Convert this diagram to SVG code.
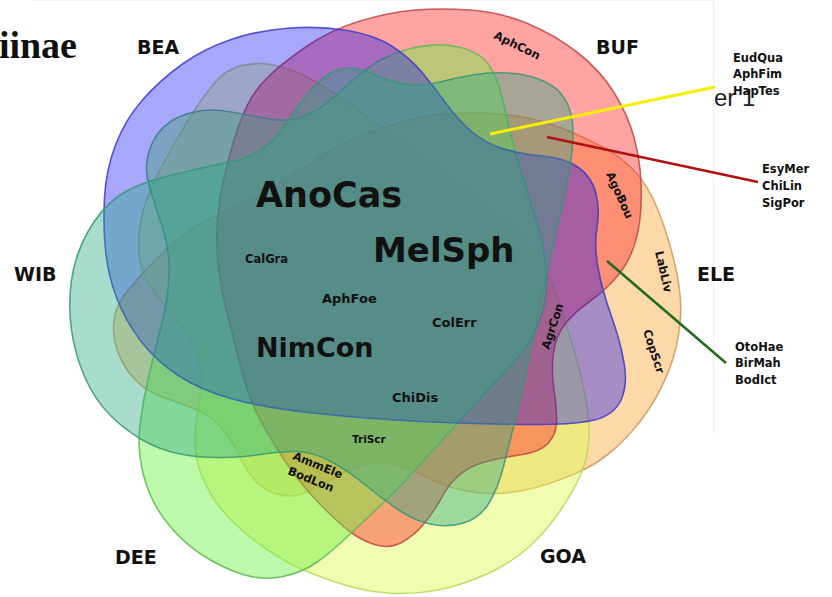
<svg xmlns="http://www.w3.org/2000/svg" width="832" height="597" viewBox="0 0 832 597">
  <defs>
    <style>
      .set { stroke-width: 1.6; stroke-opacity: 0.85; }
      .setname { font-family: "DejaVu Sans", Verdana, sans-serif; font-weight: bold; font-size: 19px; fill: #111; }
      .big { font-family: "DejaVu Sans", Verdana, sans-serif; font-weight: bold; fill: #111; }
      .sp { font-family: "DejaVu Sans", Verdana, sans-serif; font-weight: bold; font-size: 11.5px; fill: #111; }
      .list { font-family: "DejaVu Sans", Verdana, sans-serif; font-weight: bold; font-size: 11.5px; fill: #111; }
      .conn { fill: none; stroke-linecap: butt; }
    </style>
    <clipPath id="rightPanel">
      <rect x="715" y="0" width="117" height="597"/>
    </clipPath>
  </defs>

  <rect width="832" height="597" fill="#ffffff"/>
  <!-- panel edges -->
  <line x1="32" y1="0.5" x2="713" y2="0.5" stroke="#efefef" stroke-width="1"/>
  <line x1="713.5" y1="0" x2="713.5" y2="433" stroke="#efefef" stroke-width="1"/>

  <!-- title fragments -->
  <text x="77" y="58" text-anchor="end" font-family="'Liberation Serif', 'Times New Roman', serif" font-weight="bold" font-size="38" fill="#111">iinae</text>
  <text x="714" y="106" clip-path="url(#rightPanel)" font-family="'Liberation Sans', Arial, sans-serif" font-size="24" fill="#222">er 1</text>

  <!-- set ELE -->
  <g id="set-ELE">
    <path class="set" fill="#fbab42" fill-opacity="0.45" stroke="#d4965a" d="M180,237.5 Q195,225 220,213.5 Q245,202 267.5,190 Q290,178 315,160.5 Q340,143 365,134 Q390,125 410,120 Q430,115 451.5,113.5 Q473,112 498,114 Q523,116 540,121 Q557,126 571,132 Q585,138 602.5,147 Q620,156 634,170.5 Q648,185 658,210 Q668,235 675,265 Q682,295 680.5,317.5 Q679,340 672.5,360 Q666,380 656,397.5 Q646,415 633,430 Q620,445 606.5,455.5 Q593,466 576.5,473 Q560,480 547.5,484 Q535,488 522.5,490.5 Q510,493 495,493.5 Q480,494 463.5,490.5 Q447,487 430,478.5 Q413,470 396.5,465 Q380,460 363.5,465 Q347,470 330,480 Q313,490 301.5,494 Q290,498 276.5,494 Q263,490 254,479 Q245,468 238.5,454 Q232,440 221,427.5 Q210,415 195,409 Q180,403 163.5,397.5 Q147,392 135,379.5 Q123,367 117.5,351 Q112,335 114,320 Q116,305 127,291.5 Q138,278 151.5,264 Q165,250 180,237.5 Z"/>
    <text class="setname" x="697" y="281">ELE</text>
  </g>

  <!-- set GOA -->
  <g id="set-GOA">
    <path class="set" fill="#def84d" fill-opacity="0.45" stroke="#b8d85a" d="M194,111 Q203,97 214,83.5 Q225,70 240,66 Q255,62 270,64.5 Q285,67 297.5,72.5 Q310,78 327.5,89 Q345,100 362.5,113.5 Q380,127 405,145 Q430,163 455,181.5 Q480,200 500,217.5 Q520,235 534,253.5 Q548,272 556.5,296 Q565,320 572.5,345 Q580,370 585,395 Q590,420 589,439 Q588,458 580.5,475 Q573,492 560,511 Q547,530 530,546 Q513,562 488,573.5 Q463,585 438,590 Q413,595 388,593 Q363,591 341.5,584 Q320,577 303.5,570 Q287,563 268.5,550.5 Q250,538 235,524 Q220,510 210,492.5 Q200,475 196.5,457.5 Q193,440 196.5,420 Q200,400 201.5,385 Q203,370 196.5,352.5 Q190,335 176,318.5 Q162,302 152,288.5 Q142,275 139.5,257.5 Q137,240 141,220 Q145,200 155,180 Q165,160 175,142.5 Q185,125 194,111 Z"/>
    <text class="setname" x="540" y="563">GOA</text>
  </g>

  <!-- set BUF -->
  <g id="set-BUF">
    <path class="set" fill="#ff3333" fill-opacity="0.45" stroke="#c04848" d="M267.5,77.5 Q280,65 305,47.5 Q330,30 360,21 Q390,12 415,10 Q440,8 470,10 Q500,12 527.5,23.5 Q555,35 577.5,52.5 Q600,70 614,92.5 Q628,115 634,137.5 Q640,160 641,182.5 Q642,205 639.5,222.5 Q637,240 631,254 Q625,268 614,280 Q603,292 589,302 Q575,312 565.5,323.5 Q556,335 553.5,352.5 Q551,370 554,390 Q557,410 556.5,422.5 Q556,435 548,443.5 Q540,452 522.5,454.5 Q505,457 488.5,461 Q472,465 461,473.5 Q450,482 442.5,496 Q435,510 425,522.5 Q415,535 402.5,542 Q390,549 376,545 Q362,541 348.5,530.5 Q335,520 316,500 Q297,480 281,455 Q265,430 256.5,412.5 Q248,395 240,364 Q232,333 226,309 Q220,285 218,262.5 Q216,240 217.5,220 Q219,200 223.5,180 Q228,160 234,140 Q240,120 247.5,105 Q255,90 267.5,77.5 Z"/>
    <text class="setname" x="596" y="54">BUF</text>
  </g>

  <!-- set DEE -->
  <g id="set-DEE">
    <path class="set" fill="#6fef42" fill-opacity="0.45" stroke="#5fb955" d="M149,185 Q143,165 151.5,145 Q160,125 180,116.5 Q200,108 220,110.5 Q240,113 263.5,118 Q287,123 303.5,116.5 Q320,110 335,96 Q350,82 367.5,68.5 Q385,55 411,48.5 Q437,42 458.5,47 Q480,52 488.5,64.5 Q497,77 501,93.5 Q505,110 510,131.5 Q515,153 522.5,176.5 Q530,200 537.5,225 Q545,250 546.5,275 Q548,300 539,322.5 Q530,345 513.5,362.5 Q497,380 480,398.5 Q463,417 446.5,435 Q430,453 413.5,471.5 Q397,490 380,506 Q363,522 346.5,537.5 Q330,553 316.5,562.5 Q303,572 283,576.5 Q263,581 241.5,574 Q220,567 200,553.5 Q180,540 165,520 Q150,500 143.5,475 Q137,450 140,425 Q143,400 149,375 Q155,350 161.5,325 Q168,300 169,275 Q170,250 162.5,227.5 Q155,205 149,185 Z"/>
    <text class="setname" x="115" y="564">DEE</text>
  </g>

  <!-- set BEA -->
  <g id="set-BEA">
    <path class="set" fill="#0404f6" fill-opacity="0.35" stroke="#3c3cc8" d="M105.5,250 Q103,225 104.5,197.5 Q106,170 115.5,145 Q125,120 142.5,100 Q160,80 182.5,64 Q205,48 232.5,39 Q260,30 290,28 Q320,26 347.5,30.5 Q375,35 392.5,46.5 Q410,58 422.5,73 Q435,88 446.5,104 Q458,120 471.5,131.5 Q485,143 502.5,148.5 Q520,154 542.5,156 Q565,158 578.5,167.5 Q592,177 596,193.5 Q600,210 597,227.5 Q594,245 598,267.5 Q602,290 611,315 Q620,340 624,362.5 Q628,385 621,400 Q614,415 594.5,420 Q575,425 522.5,424.5 Q470,424 420,421.5 Q370,419 317.5,413.5 Q265,408 232.5,399 Q200,390 177.5,375 Q155,360 140,340 Q125,320 116.5,297.5 Q108,275 105.5,250 Z"/>
    <text class="setname" x="137" y="54">BEA</text>
  </g>

  <!-- set WIB -->
  <g id="set-WIB">
    <path class="set" fill="#25a782" fill-opacity="0.4" stroke="#379673" d="M87.5,232.5 Q100,210 116.5,197.5 Q133,185 166.5,176.5 Q200,168 225,163 Q250,158 262.5,149 Q275,140 285,125 Q295,110 306,96 Q317,82 328.5,74.5 Q340,67 352.5,68.5 Q365,70 375,75 Q385,80 402.5,83.5 Q420,87 437.5,82.5 Q455,78 472.5,75 Q490,72 507.5,73 Q525,74 538.5,79 Q552,84 559.5,92 Q567,100 570.5,112.5 Q574,125 572.5,145 Q571,165 565.5,190 Q560,215 554,241.5 Q548,268 541.5,299 Q535,330 527.5,365 Q520,400 514.5,422.5 Q509,445 503.5,466.5 Q498,488 489,503 Q480,518 463.5,523 Q447,528 430,524 Q413,520 396.5,508.5 Q380,497 363.5,483.5 Q347,470 330,461 Q313,452 296.5,451.5 Q280,451 263.5,454 Q247,457 223.5,457.5 Q200,458 180,454 Q160,450 142.5,440 Q125,430 110,415 Q95,400 85,377.5 Q75,355 71.5,330 Q68,305 71.5,280 Q75,255 87.5,232.5 Z"/>
    <text class="setname" x="14" y="281">WIB</text>
  </g>

  <!-- species in the regions -->
  <g id="regions">
    <text class="big" x="256" y="207" font-size="35">AnoCas</text>
    <text class="big" x="373" y="262" font-size="34">MelSph</text>
    <text class="big" x="256" y="357" font-size="27">NimCon</text>
    <text class="sp" x="245" y="263">CalGra</text>
    <text class="sp" x="322" y="303" style="font-size:13px">AphFoe</text>
    <text class="sp" x="432" y="327" style="font-size:13px">ColErr</text>
    <text class="sp" x="392" y="402" style="font-size:13px">ChiDis</text>
    <text class="sp" x="352" y="443" style="font-size:10.5px">TriScr</text>
    <text class="sp" transform="translate(292,459) rotate(22)">AmmEle</text>
    <text class="sp" transform="translate(287,474) rotate(22)">BodLon</text>
    <text class="sp" transform="translate(493,38) rotate(26)">AphCon</text>
    <text class="sp" transform="translate(606,174) rotate(66)">AgoBou</text>
    <text class="sp" transform="translate(655,252) rotate(77)">LabLiv</text>
    <text class="sp" transform="translate(643,331) rotate(72)">CopScr</text>
    <text class="sp" transform="translate(549,350) rotate(-72)">AgrCon</text>
  </g>

  <!-- pointer lines -->
  <g id="connectors">
    <line class="conn" x1="490" y1="134" x2="715" y2="87" stroke="#f7ef00" stroke-width="3"/>
    <line class="conn" x1="547" y1="137" x2="758" y2="182" stroke="#b01010" stroke-width="2.5"/>
    <line class="conn" x1="607" y1="261" x2="726" y2="363" stroke="#1f6b1f" stroke-width="2.5"/>
  </g>

  <!-- callout lists -->
  <g id="list-yellow">
    <text class="list" x="733" y="62">EudQua</text>
    <text class="list" x="733" y="78">AphFim</text>
    <text class="list" x="733" y="95">HapTes</text>
  </g>
  <g id="list-red">
    <text class="list" x="762" y="173">EsyMer</text>
    <text class="list" x="762" y="190">ChiLin</text>
    <text class="list" x="762" y="207">SigPor</text>
  </g>
  <g id="list-green">
    <text class="list" x="735" y="351">OtoHae</text>
    <text class="list" x="735" y="367">BirMah</text>
    <text class="list" x="735" y="384">BodIct</text>
  </g>
</svg>
